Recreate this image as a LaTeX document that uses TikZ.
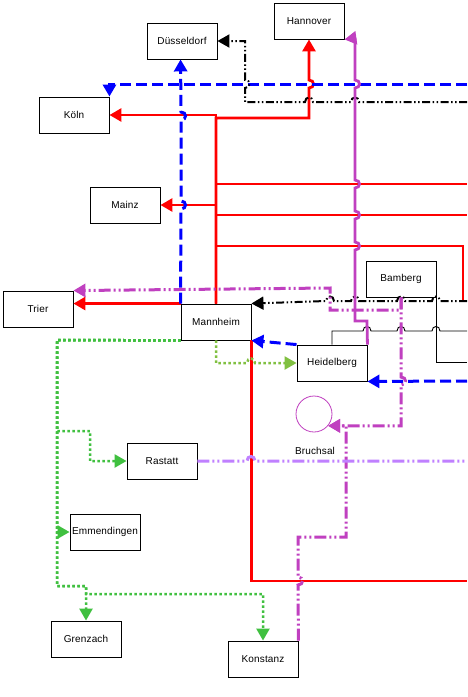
\documentclass[tikz,border=0pt]{standalone}
\usepackage{fontspec}
\setmainfont[LetterSpace=1.5]{Liberation Sans}
\usetikzlibrary{arrows.meta}
\definecolor{mag}{RGB}{192,64,192}
\definecolor{lav}{RGB}{192,128,255}
\definecolor{grn}{RGB}{64,192,64}
\definecolor{ygrn}{RGB}{128,192,64}
\newcommand\myhopU[2]{-- (#1,#2+4) .. controls (#1+6,#2+4) and (#1+6,#2-4) .. (#1,#2-4)}
\newcommand\myhopD[2]{-- (#1,#2-4) .. controls (#1+6,#2-4) and (#1+6,#2+4) .. (#1,#2+4)}
\newcommand\myhopL[2]{-- (#1+4,#2) .. controls (#1+4,#2-6) and (#1-4,#2-6) .. (#1-4,#2)}
\newcommand\myhopR[2]{-- (#1-4,#2) .. controls (#1-4,#2-6) and (#1+4,#2-6) .. (#1+4,#2)}
\begin{document}
\begin{tikzpicture}[x=1pt,y=-1pt,
  box/.style={draw,line width=0.9pt,fill=white,minimum width=70pt,minimum height=36pt,inner sep=0pt,font=\fontsize{10}{12}\selectfont},
  arr/.style={-{Triangle[length=12pt,width=13pt]}},
  redl/.style={draw=red,line width=2.8pt},
  bluel/.style={draw=blue,line width=3pt,dash pattern=on 11pt off 5pt},
  blkdd/.style={draw=black,line width=2pt,dash pattern=on 8pt off 2.5pt on 1.5pt off 2.5pt on 1.5pt off 2.5pt},
  magl/.style={draw=mag,line width=2.8pt},
  magdd/.style={draw=mag,line width=3pt,dash pattern=on 12pt off 3pt on 2pt off 3pt on 2pt off 3pt},
  lavdd/.style={draw=lav,line width=3pt,dash pattern=on 12pt off 3pt on 2pt off 3pt on 2pt off 3pt},
  gdot/.style={draw=grn,line width=2.5pt,dash pattern=on 2.5pt off 2.5pt},
  ygdot/.style={draw=ygrn,line width=2.5pt,dash pattern=on 2.5pt off 2.5pt},
  thinl/.style={draw=black,line width=0.9pt}]
\useasboundingbox (0,0) rectangle (467,697);
\fill[white] (0,0) rectangle (467,697);

% nodes
\node[box] (dus) at (182,41) {Düsseldorf};
\node[box] (han) at (309,21) {Hannover};
\node[box] (kol) at (74,115) {Köln};
\node[box] (mai) at (125,205) {Mainz};
\node[box] (tri) at (38,309) {Trier};
\node[box] (man) at (216,322) {Mannheim};
\node[box] (bam) at (401,279) {Bamberg};
\node[box] (hei) at (332,363) {Heidelberg};
\node[box] (ras) at (162,461) {Rastatt};
\node[box] (emm) at (105,532) {Emmendingen};
\node[box] (gre) at (86,639) {Grenzach};
\node[box] (kon) at (263,659) {Konstanz};
\node[circle,draw=mag,line width=0.8pt,minimum size=36pt,inner sep=0pt] (bru) at (314,414) {};
\node[font=\fontsize{10}{12}\selectfont] (brul) at (315,451) {Bruchsal};

% free ends at the right border
\coordinate (eB1) at (467,84);
\coordinate (eK1) at (467,102);
\coordinate (eR4) at (467,184);
\coordinate (eR5) at (467,215);
\coordinate (eR6) at (463,302);
\coordinate (eK2) at (467,301);
\coordinate (eT1) at (467,331);
\coordinate (eT2) at (467,362);
\coordinate (eB4) at (467,381);
\coordinate (eL1) at (467,461);
\coordinate (eR8) at (467,581);

% thin black
\draw[thinl] (hei.north) -- (332,331) \myhopR{367}{331} \myhopR{401}{331} \myhopR{436}{331} -- (eT1);
\draw[thinl] (bam.south east) |- (eT2);

% red
\draw[redl,arr] (man.north) |- (kol.east);
\draw[redl,arr] (man.north) -- (216,118) -- (309,118) \myhopU{309}{84} -- (han.south);
\draw[redl,arr] (man.north) |- (mai.east);
\draw[redl] (man.north) |- (eR4);
\draw[redl] (man.north) |- (eR5);
\draw[redl] (man.north) |- (463,246) -- (eR6);
\draw[redl,arr] (man.north west) -- (tri.east |- man.north west);
\draw[redl] (man.south east) |- (eR8);

% blue
\draw[bluel,arr] (eB1) -| (kol.north east);
\draw[bluel,arr] (man.north west) \myhopU{181}{205} \myhopU{181}{116} -- (man.north west |- dus.south);
\draw[bluel,arr] (hei.north west) -- (man.south east);
\draw[bluel,arr] (eB4) -- (hei.south east);

% black dash-dot
\draw[blkdd,arr] (eK1) \myhopL{355}{102} \myhopL{309}{102} -- (245,102) \myhopU{245}{84} |- (dus.east);
\draw[blkdd,arr] (eK2) \myhopL{436}{301} \myhopL{401}{301} \myhopL{355}{301} \myhopL{330}{301} -- (man.north east);

% magenta solid
\draw[magl,arr] (hei.north east) -- (367,321) -- (355,321) \myhopU{355}{246} \myhopU{355}{215} \myhopU{355}{184} \myhopU{355}{84} -- (355,38) -- (han.south east);

% magenta dash-dot
\draw[magdd,arr] (bam.south) -- (401,310) -- (330,310) -- (330,288) -- (tri.north east);
\draw[magdd,arr] (bam.south) \myhopD{401}{381} |- (bru.-40);
\draw[magdd,arr] (kon.north east) \myhopU{298}{581} -- (298,537) -- (346,537) |- (bru.-40);

% lavender
\draw[lavdd] (ras.east) \myhopR{251}{461} -- (eL1);

% green dotted
\draw[ygdot,arr] (man.south) -- (216,363) \myhopR{251}{363} -- (hei.west);
\draw[gdot,arr] (man.south west) -- (57,340) -- (57,431) -- (90,431) |- (ras.west);
\draw[gdot,arr] (man.south west) -- (57,340) |- (emm.west);
\draw[gdot,arr] (man.south west) -- (57,340) -- (57,586) -| (gre.north);
\draw[gdot,arr] (man.south west) -- (57,340) -- (57,586) -- (86,586) -- (86,594) -| (kon.north);
\end{tikzpicture}
\end{document}
